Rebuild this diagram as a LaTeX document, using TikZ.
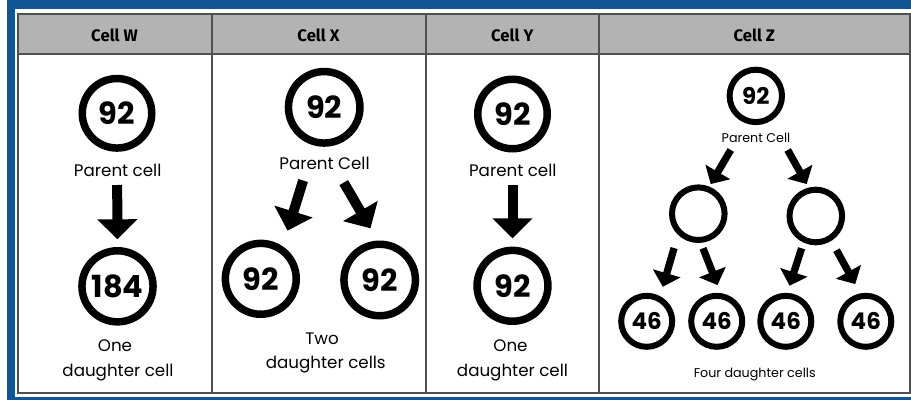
\documentclass[tikz,border=0pt]{standalone}
\usepackage{fontspec}
\setmainfont{Poppins}
\newfontfamily\hdfont{Fira Sans}
\usetikzlibrary{arrows.meta}
\definecolor{frameblue}{RGB}{16,85,150}
\definecolor{headgray}{RGB}{179,179,179}
\definecolor{rulegray}{RGB}{80,80,80}
\begin{document}
\begin{tikzpicture}[x=1pt,y=-1pt,
  ring/.style={circle,draw=black,line width=7.5pt,outer sep=3.75pt,inner sep=0pt,minimum size=#1,font=\fontsize{30.5}{30}\selectfont\bfseries},
  smallring/.style={circle,draw=black,line width=6pt,outer sep=3pt,inner sep=0pt,minimum size=#1,font=\fontsize{23}{23}\selectfont\bfseries},
  bigarrow/.style={line width=10pt,-{Triangle[width=39pt,length=20pt]}},
  smallarrow/.style={line width=7.3pt,-{Triangle[width=28pt,length=14pt]}},
  txt/.style={anchor=base,inner sep=0pt,font=\fontsize{16.7}{20}\selectfont},
  smalltxt/.style={anchor=base,inner sep=0pt,font=\fontsize{12.7}{15}\selectfont},
  headtxt/.style={anchor=base,inner sep=0pt,font=\hdfont\bfseries\fontsize{16.7}{18}\selectfont},
  rule/.style={draw=rulegray,line width=2pt}]
\useasboundingbox (0,0) rectangle (911,400);
% frame
\fill[white] (0,0) rectangle (911,400);
\fill[frameblue] (7,0) rectangle (911,400);
\fill[white] (15,9) rectangle (911,397);
% table
\fill[headgray] (17.7,14.3) rectangle (909.7,54.3);
\draw[rule] (17.7,14.3) rectangle (909.7,392.7);
\draw[rule] (17.7,54.3) -- (909.7,54.3);
\draw[rule] (211.7,14.3) -- (211.7,392.7);
\draw[rule] (425.7,14.3) -- (425.7,392.7);
\draw[rule] (599,14.3) -- (599,392.7);
% headers
\node[headtxt] (hW) at (114.5,41.7) {Cell W};
\node[headtxt] (hX) at (318.5,41.7) {Cell X};
\node[headtxt] (hY) at (512.3,41.7) {Cell Y};
\node[headtxt] (hZ) at (754.3,41.7) {Cell Z};
% Cell W
\node[ring=69.5pt] (pcW) at (117,113.3) {92};
\node[txt] (tW1) at (117.7,176.7) {Parent cell};
\node[ring=71.1pt] (dW) at (117.5,286.3) {184};
\node[txt] (tW2) at (115,351.7) {One};
\node[txt] (tW3) at (118,376) {daughter cell};
\draw[bigarrow,shorten <=33.2pt,shorten >=7.7pt] (pcW.south) -- (dW.north);
% Cell X
\node[ring=71.5pt] (pcX) at (324.2,107.3) {92};
\node[txt] (tX1) at (324.5,169.3) {Parent Cell};
\node[ring=70.9pt] (dX1) at (260.8,278.8) {92};
\node[ring=71.5pt] (dX2) at (379.7,280) {92};
\node[txt] (tX2) at (322,344) {Two};
\node[txt] (tX3) at (325.8,368.3) {daughter cells};
\draw[bigarrow,shorten <=36.7pt,shorten >=16.4pt] (pcX.255.5) -- (dX1.56.8);
\draw[bigarrow,shorten <=41.5pt,shorten >=14.2pt] (pcX.268.8) -- (dX2.93.9);
% Cell Y
\node[ring=69.5pt] (pcY) at (512.5,114) {92};
\node[txt] (tY1) at (512.8,176.7) {Parent cell};
\node[ring=70.9pt] (dY) at (512.5,285.8) {92};
\node[txt] (tY2) at (510.5,351.7) {One};
\node[txt] (tY3) at (512.5,376) {daughter cell};
\draw[bigarrow,shorten <=32.5pt,shorten >=8.3pt] (pcY.south) -- (dY.north);
% Cell Z
\node[smallring=52.4pt] (pcZ) at (755.8,95.9) {92};
\node[smalltxt] (tZ1) at (756,142.7) {Parent Cell};
\node[smallring=52.6pt] (mZ1) at (698.3,213.7) {};
\node[smallring=52.6pt] (mZ2) at (815.8,216) {};
\node[smallring=51pt] (dZ1) at (646.7,321.3) {46};
\node[smallring=51pt] (dZ2) at (716.7,321.3) {46};
\node[smallring=51pt] (dZ3) at (785.8,321.3) {46};
\node[smallring=51pt] (dZ4) at (865.8,321.3) {46};
\node[smalltxt] (tZ2) at (754.7,377.3) {Four daughter cells};
\draw[smallarrow,shorten <=30.7pt,shorten >=2.9pt] (pcZ.251) -- (mZ1.68.2);
\draw[smallarrow,shorten <=33.6pt,shorten >=4.1pt] (pcZ.302) -- (mZ2.104);
\draw[smallarrow,shorten <=13.8pt,shorten >=9.75pt] (mZ1.226.9) -- (dZ1.62.4);
\draw[smallarrow,shorten <=5.8pt,shorten >=8.6pt] (mZ1.275.7) -- (dZ2.82.5);
\draw[smallarrow,shorten <=6pt,shorten >=7.5pt] (mZ2.245.4) -- (dZ3.87.8);
\draw[smallarrow,shorten <=10.6pt,shorten >=10.6pt] (mZ2.302.9) -- (dZ4.101.9);
\end{tikzpicture}
\end{document}
